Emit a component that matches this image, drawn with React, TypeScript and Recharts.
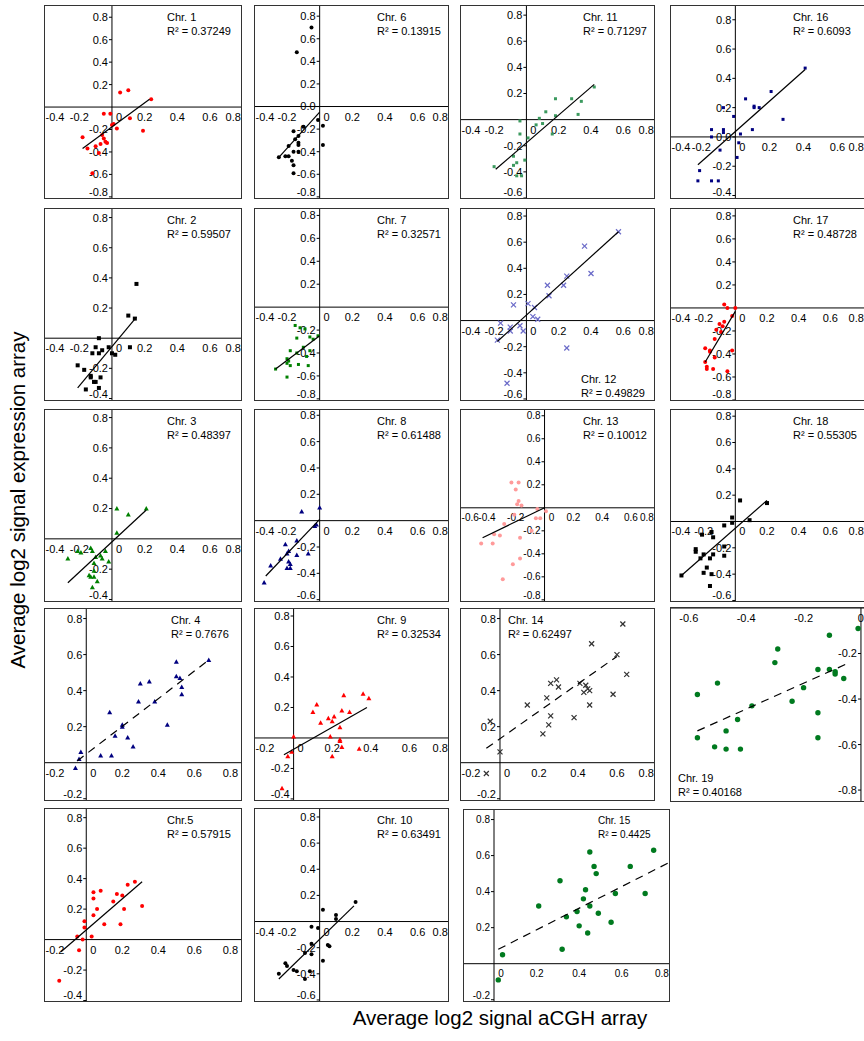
import React from "react";
import {
  ScatterChart,
  Scatter,
  XAxis,
  YAxis,
  ReferenceLine,
  ReferenceDot,
} from "recharts";

type Pair = [number, number];

// values, [aCGH, expression]
const chr1: Pair[] = [[0.05,0.13],[0.1,0.15],[0.24,0.07],[-0.05,-0.06],[-0.01,-0.06],[0.01,-0.15],[0,-0.16],[0.03,-0.19],[0.11,-0.1],[0.19,-0.21],[-0.18,-0.27],[-0.06,-0.25],[-0.05,-0.28],[-0.04,-0.31],[-0.03,-0.32],[-0.07,-0.33],[-0.1,-0.35],[-0.15,-0.37],[-0.08,-0.41],[-0.12,-0.59]];
const chr1Fit: Pair[] = [[-0.18,-0.37],[0.23,0.07]];
const chr2: Pair[] = [[0.15,0.36],[0.1,0.15],[0.14,0.13],[-0.08,0],[0.11,-0.06],[-0.1,-0.06],[-0.02,-0.06],[-0.12,-0.1],[-0.08,-0.1],[-0.06,-0.08],[0,-0.1],[0.02,-0.11],[-0.21,-0.18],[-0.17,-0.21],[-0.13,-0.25],[-0.13,-0.26],[-0.07,-0.26],[-0.11,-0.29],[-0.1,-0.29],[-0.16,-0.34],[-0.08,-0.33]];
const chr2Fit: Pair[] = [[-0.21,-0.33],[0.15,0.14]];
const chr3: Pair[] = [[0.21,0.2],[0.03,0.2],[0.1,0.16],[0.03,0.04],[-0.27,-0.13],[-0.21,-0.08],[-0.19,-0.09],[-0.13,-0.06],[-0.12,-0.08],[-0.04,-0.08],[-0.07,-0.11],[-0.1,-0.12],[-0.06,-0.13],[-0.02,-0.15],[-0.11,-0.16],[-0.11,-0.21],[-0.14,-0.24],[-0.13,-0.25],[-0.11,-0.25],[-0.09,-0.28],[-0.12,-0.32]];
const chr3Fit: Pair[] = [[-0.27,-0.29],[0.21,0.19]];
const chr4: Pair[] = [[0.68,0.57],[0.5,0.56],[0.5,0.48],[0.52,0.47],[0.53,0.42],[0.53,0.38],[0.3,0.44],[0.35,0.45],[0.29,0.34],[0.38,0.34],[0.13,0.28],[0.2,0.21],[0.2,0.2],[0.16,0.15],[0.23,0.14],[0.45,0.21],[0.26,0.09],[0.08,0.04],[0.14,0.04],[-0.03,0.06],[-0.04,0.02],[-0.06,-0.03]];
const chr4Fit: Pair[] = [[-0.05,0.01],[0.68,0.57]];
const chr5: Pair[] = [[0.27,0.38],[0.23,0.36],[0.08,0.32],[0.04,0.31],[0.04,0.27],[0.17,0.3],[0.2,0.29],[0.15,0.25],[0.06,0.2],[0.21,0.2],[0.31,0.22],[0.04,0.16],[0.1,0.1],[0.19,0.1],[-0.01,0.12],[-0.01,0.08],[0.03,0.02],[-0.05,0.02],[-0.02,0],[-0.04,-0.07],[-0.15,-0.27]];
const chr5Fit: Pair[] = [[-0.14,-0.08],[0.31,0.38]];
const chr6: Pair[] = [[-0.05,0.7],[-0.14,0.48],[-0.01,-0.12],[0.02,-0.17],[-0.1,-0.18],[-0.16,-0.22],[0.02,-0.34],[-0.15,-0.29],[-0.13,-0.26],[-0.13,-0.32],[-0.13,-0.34],[-0.19,-0.35],[-0.16,-0.4],[-0.13,-0.4],[-0.21,-0.44],[-0.19,-0.44],[-0.25,-0.45],[-0.17,-0.48],[-0.16,-0.52],[-0.16,-0.59]];
const chr6Fit: Pair[] = [[-0.25,-0.45],[0,-0.05]];
const chr7: Pair[] = [[-0.15,-0.16],[-0.12,-0.18],[-0.09,-0.19],[-0.14,-0.27],[-0.06,-0.26],[-0.01,-0.25],[-0.04,-0.28],[-0.18,-0.38],[-0.14,-0.4],[-0.1,-0.35],[-0.06,-0.38],[-0.08,-0.43],[-0.2,-0.45],[-0.19,-0.47],[-0.2,-0.49],[-0.18,-0.51],[-0.13,-0.5],[-0.07,-0.51],[-0.2,-0.61],[-0.27,-0.54]];
const chr7Fit: Pair[] = [[-0.27,-0.54],[0,-0.25]];
const chr8: Pair[] = [[0,0.1],[-0.11,0.07],[-0.02,-0.03],[-0.03,-0.04],[-0.14,-0.15],[-0.21,-0.18],[-0.19,-0.23],[-0.14,-0.26],[-0.07,-0.25],[-0.2,-0.25],[-0.24,-0.29],[-0.19,-0.31],[-0.18,-0.33],[-0.2,-0.36],[-0.18,-0.36],[-0.3,-0.34],[-0.34,-0.47]];
const chr8Fit: Pair[] = [[-0.33,-0.42],[0,0.01]];
const chr9: Pair[] = [[0.36,0.29],[0.39,0.26],[0.26,0.28],[0.12,0.22],[0.1,0.17],[0.25,0.18],[0.29,0.17],[0.14,0.1],[0.18,0.13],[0.21,0.14],[0.2,0.11],[0.24,0.07],[0.19,0.01],[0.24,-0.01],[0.24,-0.02],[0.25,-0.06],[0.34,-0.07],[0.2,-0.12],[0,0.01],[-0.01,-0.09],[-0.03,-0.12],[-0.06,-0.33]];
const chr9Fit: Pair[] = [[-0.05,-0.11],[0.38,0.2]];
const chr10: Pair[] = [[0.22,0.15],[0.02,0.09],[0.1,0.05],[0.1,0.02],[-0.05,-0.04],[-0.01,-0.05],[0.05,-0.18],[0.06,-0.19],[-0.05,-0.17],[-0.09,-0.24],[-0.05,-0.25],[0.02,-0.3],[-0.21,-0.32],[-0.2,-0.34],[-0.16,-0.37],[-0.14,-0.38],[-0.06,-0.38],[-0.25,-0.4],[-0.09,-0.44]];
const chr10Fit: Pair[] = [[-0.25,-0.44],[0.21,0.12]];
const chr11: Pair[] = [[0.42,0.25],[0.18,0.16],[0.28,0.16],[0.34,0.14],[0.12,0.06],[0.18,0.03],[0.32,0.04],[0.08,0.01],[0.1,-0.03],[0.06,-0.04],[-0.04,-0.01],[-0.04,-0.11],[0.01,-0.14],[0.16,-0.11],[-0.08,-0.28],[-0.01,-0.31],[-0.06,-0.33],[-0.08,-0.35],[-0.2,-0.36],[-0.06,-0.43],[-0.03,-0.43]];
const chr11Fit: Pair[] = [[-0.19,-0.38],[0.42,0.27]];
const chr12: Pair[] = [[0.57,0.68],[0.36,0.57],[0.4,0.36],[0.25,0.34],[0.23,0.27],[0.13,0.27],[0.14,0.19],[-0.08,0.12],[0.01,0.13],[0.05,0.1],[0.04,0.03],[0.07,0.01],[-0.16,-0.02],[-0.1,-0.05],[-0.1,-0.08],[-0.04,-0.04],[-0.02,-0.08],[-0.18,-0.15],[0.25,-0.21],[-0.12,-0.48]];
const chr12Fit: Pair[] = [[-0.18,-0.16],[0.57,0.68]];
const chr13: Pair[] = [[-0.23,0.22],[-0.18,0.22],[-0.2,0.16],[-0.18,0.06],[-0.19,0.03],[-0.16,0.02],[-0.05,-0.01],[0.01,-0.03],[-0.21,-0.06],[-0.06,-0.09],[-0.03,-0.09],[-0.28,-0.14],[-0.09,-0.2],[-0.35,-0.23],[-0.31,-0.24],[-0.17,-0.26],[-0.44,-0.31],[-0.36,-0.31],[-0.17,-0.44],[-0.22,-0.49],[-0.29,-0.62]];
const chr13Fit: Pair[] = [[-0.43,-0.26],[0,0]];
const chr14: Pair[] = [[0.63,0.77],[0.47,0.66],[0.6,0.6],[0.65,0.49],[0.29,0.46],[0.26,0.44],[0.3,0.42],[0.41,0.44],[0.44,0.43],[0.45,0.41],[0.43,0.39],[0.46,0.4],[0.58,0.38],[0.24,0.36],[0.14,0.32],[0.46,0.32],[0.26,0.26],[0.38,0.25],[0.25,0.21],[0.22,0.16],[-0.05,0.23],[0,0.06],[-0.07,-0.06]];
const chr14Fit: Pair[] = [[-0.07,0.08],[0.6,0.59]];
const chr15: Pair[] = [[0.75,0.63],[0.45,0.62],[0.47,0.54],[0.64,0.54],[0.48,0.5],[0.31,0.46],[0.43,0.41],[0.42,0.36],[0.57,0.39],[0.71,0.39],[0.21,0.32],[0.45,0.32],[0.39,0.29],[0.49,0.28],[0.34,0.26],[0.4,0.21],[0.55,0.23],[0.44,0.17],[0.32,0.08],[0.04,0.05],[0.02,-0.09]];
const chr15Fit: Pair[] = [[0.02,0.08],[0.82,0.56]];
const chr16: Pair[] = [[0.41,0.47],[0.21,0.31],[0.06,0.26],[0.11,0.21],[0.11,0.2],[0.14,0.2],[0.28,0.12],[-0.07,0.2],[-0.01,0.14],[0.1,0.05],[-0.14,0.05],[-0.07,0.05],[-0.07,0.03],[-0.14,0],[0.03,0.02],[0.02,-0.04],[-0.09,-0.09],[0.01,-0.14],[-0.21,-0.23],[-0.22,-0.3],[-0.14,-0.3],[-0.1,-0.3]];
const chr16Fit: Pair[] = [[-0.22,-0.19],[0.41,0.46]];
const chr17: Pair[] = [[-0.07,0.03],[-0.05,0],[0,0],[-0.02,-0.07],[-0.07,-0.12],[-0.1,-0.14],[-0.08,-0.16],[-0.09,-0.21],[-0.12,-0.19],[-0.13,-0.27],[-0.19,-0.35],[-0.16,-0.37],[-0.16,-0.38],[-0.13,-0.43],[-0.02,-0.37],[-0.19,-0.47],[-0.18,-0.51],[-0.18,-0.53],[-0.14,-0.53],[-0.05,-0.55]];
const chr17Fit: Pair[] = [[-0.19,-0.47],[0,-0.03]];
const chr18: Pair[] = [[0.03,0.16],[0.2,0.14],[-0.02,0.03],[-0.02,-0.01],[-0.07,-0.03],[0.09,0.01],[-0.21,-0.1],[-0.15,-0.08],[-0.14,-0.12],[-0.07,-0.19],[-0.25,-0.21],[-0.25,-0.23],[-0.2,-0.25],[-0.14,-0.25],[-0.22,-0.28],[-0.16,-0.28],[-0.07,-0.26],[-0.18,-0.35],[-0.2,-0.39],[-0.15,-0.4],[-0.34,-0.41],[-0.16,-0.49]];
const chr18Fit: Pair[] = [[-0.34,-0.41],[0.2,0.16]];
const chr19: Pair[] = [[-0.01,-0.09],[-0.11,-0.12],[-0.29,-0.18],[-0.3,-0.24],[-0.15,-0.27],[-0.11,-0.27],[-0.09,-0.28],[-0.09,-0.29],[-0.06,-0.31],[-0.5,-0.33],[-0.57,-0.38],[-0.2,-0.35],[-0.38,-0.43],[-0.24,-0.41],[-0.15,-0.46],[-0.43,-0.49],[-0.47,-0.54],[-0.15,-0.57],[-0.57,-0.57],[-0.51,-0.61],[-0.47,-0.62],[-0.42,-0.62]];
const chr19Fit: Pair[] = [[-0.57,-0.54],[-0.04,-0.24]];

// tick label sets
const xStd = [-0.4, -0.2, 0, 0.2, 0.4, 0.6, 0.8];
const xPos = [-0.2, 0, 0.2, 0.4, 0.6, 0.8];
const xWide = [-0.6, -0.4, -0.2, 0, 0.2, 0.4, 0.6, 0.8];
const xNeg = [-0.6, -0.4, -0.2, 0];
const yFull = [-0.8, -0.6, -0.4, -0.2, 0.2, 0.4, 0.6, 0.8];
const yMid = [-0.6, -0.4, -0.2, 0.2, 0.4, 0.6, 0.8];
const yShort = [-0.4, -0.2, 0.2, 0.4, 0.6, 0.8];
const yPos = [-0.2, 0.2, 0.4, 0.6, 0.8];
const yNeg = [-0.8, -0.6, -0.4, -0.2];

const FONT = "'Liberation Sans', Arial, sans-serif";
const RED = "#ff0000";
const NAVY = "#000080";
const GREEN = "#008000";
const PAGE_W = 864;

type Mark = "dot" | "bigdot" | "square" | "smallsquare" | "triangle" | "cross";

interface PanelDef {
  name: string;
  r2: string;
  pts: Pair[];
  fit: Pair[];
  left: number;
  top: number;
  w: number;
  h: number;
  xd: [number, number];
  yd: [number, number];
  xt: number[];
  yt: number[];
  color: string;
  mark: Mark;
  dashed?: boolean;
  lx?: number;
  ly?: number;
  fs?: number;
  tfs?: number;
}

const panels: PanelDef[] = [
  { name: "Chr. 1", r2: "0.37249", pts: chr1, fit: chr1Fit, left: 44, top: 5, w: 198, h: 194, xd: [-0.41, 0.79], yd: [-0.81, 0.9], xt: xStd, yt: yFull, color: RED, mark: "dot" },
  { name: "Chr. 6", r2: "0.13915", pts: chr6, fit: chr6Fit, left: 254, top: 5, w: 195, h: 194, xd: [-0.396, 0.786], yd: [-0.81, 0.89], xt: xStd, yt: [...yFull, 0], color: "#000", mark: "dot" },
  { name: "Chr. 11", r2: "0.71297", pts: chr11, fit: chr11Fit, left: 460, top: 5, w: 195, h: 194, xd: [-0.405, 0.79], yd: [-0.6, 0.87], xt: xStd, yt: yMid, color: "#3c9a5f", mark: "smallsquare" },
  { name: "Chr. 16", r2: "0.6093", pts: chr16, fit: chr16Fit, left: 670, top: 5, w: 200, h: 194, xd: [-0.378, 0.785], yd: [-0.417, 0.894], xt: xStd, yt: [-0.4, -0.2, 0, 0.2, 0.4, 0.6, 0.8], color: NAVY, mark: "smallsquare" },

  { name: "Chr. 2", r2: "0.59507", pts: chr2, fit: chr2Fit, left: 44, top: 208, w: 198, h: 193, xd: [-0.41, 0.79], yd: [-0.41, 0.857], xt: xStd, yt: yShort, color: "#000", mark: "square" },
  { name: "Chr. 7", r2: "0.32571", pts: chr7, fit: chr7Fit, left: 254, top: 208, w: 195, h: 193, xd: [-0.396, 0.786], yd: [-0.81, 0.856], xt: xStd, yt: yFull, color: GREEN, mark: "smallsquare" },
  { name: "Chr. 12", r2: "0.49829", pts: chr12, fit: chr12Fit, left: 460, top: 208, w: 195, h: 193, xd: [-0.405, 0.79], yd: [-0.608, 0.854], xt: xStd, yt: yMid, color: "#6a6ac8", mark: "cross", lx: 120, ly: 163 },
  { name: "Chr. 17", r2: "0.48728", pts: chr17, fit: chr17Fit, left: 670, top: 208, w: 200, h: 193, xd: [-0.406, 0.844], yd: [-0.8, 0.86], xt: xStd, yt: yFull, color: RED, mark: "dot" },

  { name: "Chr. 3", r2: "0.48397", pts: chr3, fit: chr3Fit, left: 44, top: 409, w: 198, h: 193, xd: [-0.41, 0.79], yd: [-0.41, 0.85], xt: xStd, yt: yShort, color: GREEN, mark: "triangle" },
  { name: "Chr. 8", r2: "0.61488", pts: chr8, fit: chr8Fit, left: 254, top: 409, w: 195, h: 193, xd: [-0.396, 0.786], yd: [-0.61, 0.84], xt: xStd, yt: yMid, color: NAVY, mark: "triangle" },
  { name: "Chr. 13", r2: "0.10012", pts: chr13, fit: chr13Fit, left: 460, top: 409, w: 195, h: 193, xd: [-0.58, 0.76], yd: [-0.81, 0.85], xt: xWide, yt: yFull, color: "#ff9a9a", mark: "dot", tfs: 10 },
  { name: "Chr. 18", r2: "0.55305", pts: chr18, fit: chr18Fit, left: 670, top: 409, w: 200, h: 193, xd: [-0.406, 0.844], yd: [-0.604, 0.847], xt: xStd, yt: yMid, color: "#000", mark: "square" },

  { name: "Chr. 4", r2: "0.7676", pts: chr4, fit: chr4Fit, left: 44, top: 608, w: 198, h: 193, xd: [-0.229, 0.859], yd: [-0.207, 0.853], xt: xPos, yt: yPos, color: NAVY, mark: "triangle", dashed: true, lx: 126 },
  { name: "Chr. 9", r2: "0.32534", pts: chr9, fit: chr9Fit, left: 254, top: 608, w: 195, h: 193, xd: [-0.2, 0.8], yd: [-0.407, 0.846], xt: xPos, yt: yShort, color: RED, mark: "triangle" },
  { name: "Chr. 14", r2: "0.62497", pts: chr14, fit: chr14Fit, left: 460, top: 608, w: 195, h: 193, xd: [-0.2, 0.79], yd: [-0.207, 0.853], xt: xPos, yt: yPos, color: "#333", mark: "cross", dashed: true, lx: 47 },
  { name: "Chr. 19", r2: "0.40168", pts: chr19, fit: chr19Fit, left: 670, top: 607, w: 200, h: 195, xd: [-0.662, 0.028], yd: [-0.848, 0], xt: xNeg, yt: yNeg, color: "#007a1f", mark: "bigdot", dashed: true, lx: 7, ly: 163 },

  { name: "Chr.5", r2: "0.57915", pts: chr5, fit: chr5Fit, left: 44, top: 808, w: 198, h: 194, xd: [-0.229, 0.859], yd: [-0.403, 0.857], xt: xPos, yt: yShort, color: RED, mark: "dot" },
  { name: "Chr. 10", r2: "0.63491", pts: chr10, fit: chr10Fit, left: 254, top: 808, w: 195, h: 194, xd: [-0.396, 0.786], yd: [-0.608, 0.861], xt: xStd, yt: yMid, color: "#000", mark: "dot" },
  { name: "Chr. 15", r2: "0.4425", pts: chr15, fit: chr15Fit, left: 463, top: 809, w: 207, h: 193, xd: [-0.141, 0.822], yd: [-0.207, 0.853], xt: [0, 0.2, 0.4, 0.6, 0.8], yt: yPos, color: "#007a1f", mark: "bigdot", dashed: true, lx: 134, fs: 10 },
];

const toPts = (a: Pair[]) => a.map(([x, y]) => ({ x, y }));

const markShape = (mark: Mark, color: string) => (p: any) => {
  const { cx, cy } = p;
  if (cx == null || cy == null) return <g />;
  switch (mark) {
    case "dot":
      return <circle cx={cx} cy={cy} r={2} fill={color} />;
    case "bigdot":
      return <circle cx={cx} cy={cy} r={2.7} fill={color} />;
    case "square":
      return <rect x={cx - 2} y={cy - 2} width={4} height={4} fill={color} />;
    case "smallsquare":
      return <rect x={cx - 1.5} y={cy - 1.5} width={3} height={3} fill={color} />;
    case "triangle":
      return <path d={`M${cx},${cy - 2.5}L${cx + 2.5},${cy + 2}L${cx - 2.5},${cy + 2}Z`} fill={color} />;
    default:
      return (
        <g stroke={color} strokeWidth={1.2}>
          <line x1={cx - 2.5} y1={cy - 2.5} x2={cx + 2.5} y2={cy + 2.5} />
          <line x1={cx - 2.5} y1={cy + 2.5} x2={cx + 2.5} y2={cy - 2.5} />
        </g>
      );
  }
};

// x tick text sits under the crossing axis, pushed inside the visible frame at the edges
const xLabel = (t: number, w: number, fs: number) => (p: any) => {
  const text = t === 0 ? "0" : t.toFixed(1);
  const half = text.length * fs * 0.205;
  let cx = p.cx + (t === 0 ? 7 : 0);
  cx = Math.min(Math.max(cx, half + 1), w - half - 1);
  return (
    <text x={cx} y={p.cy + fs + 3} textAnchor="middle" fontSize={fs} fontFamily={FONT} fill="#000">
      {text}
    </text>
  );
};

const yLabel = (t: number, h: number, fs: number) => (p: any) => {
  const ty = Math.min(p.cy, h - 6);
  return (
    <g>
      <line x1={p.cx - 3} y1={p.cy} x2={p.cx} y2={p.cy} stroke="#000" />
      <text x={p.cx - 4} y={ty + fs * 0.36} textAnchor="end" fontSize={fs} fontFamily={FONT} fill="#000">
        {t.toFixed(1)}
      </text>
    </g>
  );
};

const Panel = ({ d }: { d: PanelDef }) => {
  const cw = d.w - 2;
  const ch = d.h - 2;
  const fs = d.fs ?? 11;
  const tfs = d.tfs ?? fs;
  const visW = Math.min(cw, PAGE_W - d.left - 1);
  return (
    <div
      style={{
        position: "absolute",
        left: d.left,
        top: d.top,
        width: d.w,
        height: d.h,
        border: "1px solid #333",
        boxSizing: "border-box",
        background: "#fff",
      }}
    >
      <ScatterChart width={cw} height={ch} margin={{ top: 0, right: 0, bottom: 0, left: 0 }}>
        <XAxis type="number" dataKey="x" domain={d.xd} hide allowDataOverflow />
        <YAxis type="number" dataKey="y" domain={d.yd} hide allowDataOverflow />
        <ReferenceLine x={0} stroke="#000" ifOverflow="visible" />
        <ReferenceLine y={0} stroke="#000" ifOverflow="visible" />
        {d.xt.map((t) => (
          <ReferenceDot key={"x" + t} x={t} y={0} r={0} ifOverflow="visible" shape={xLabel(t, visW, tfs)} />
        ))}
        {d.yt.map((t) => (
          <ReferenceDot key={"y" + t} x={0} y={t} r={0} ifOverflow="visible" shape={yLabel(t, ch, tfs)} />
        ))}
        <Scatter
          data={toPts(d.pts)}
          fill={d.color}
          shape={markShape(d.mark, d.color)}
          isAnimationActive={false}
        />
        <Scatter
          data={toPts(d.fit)}
          fill="#000"
          line={{ stroke: "#000", strokeWidth: 1.2, strokeDasharray: d.dashed ? "8 6" : undefined }}
          shape={() => <g />}
          isAnimationActive={false}
        />
      </ScatterChart>
      <div
        style={{
          position: "absolute",
          left: d.lx ?? 122,
          top: d.ly ?? 4,
          fontSize: fs,
          lineHeight: "14px",
          whiteSpace: "nowrap",
          fontFamily: FONT,
        }}
      >
        {d.name}
        <br />
        R² = {d.r2}
      </div>
    </div>
  );
};

export default function App() {
  return (
    <div
      style={{
        position: "absolute",
        left: 0,
        top: 0,
        width: PAGE_W,
        height: 1041,
        overflow: "hidden",
        background: "#fff",
        fontFamily: FONT,
      }}
    >
      {panels.map((d) => (
        <Panel key={d.name} d={d} />
      ))}
      <div
        style={{
          position: "absolute",
          left: 18,
          top: 500,
          transform: "translate(-50%, -50%) rotate(-90deg)",
          whiteSpace: "nowrap",
          fontSize: 20.5,
        }}
      >
        Average log2 signal expression array
      </div>
      <div
        style={{
          position: "absolute",
          left: 500,
          top: 1006,
          transform: "translateX(-50%)",
          whiteSpace: "nowrap",
          fontSize: 20.5,
        }}
      >
        Average log2 signal aCGH array
      </div>
    </div>
  );
}
